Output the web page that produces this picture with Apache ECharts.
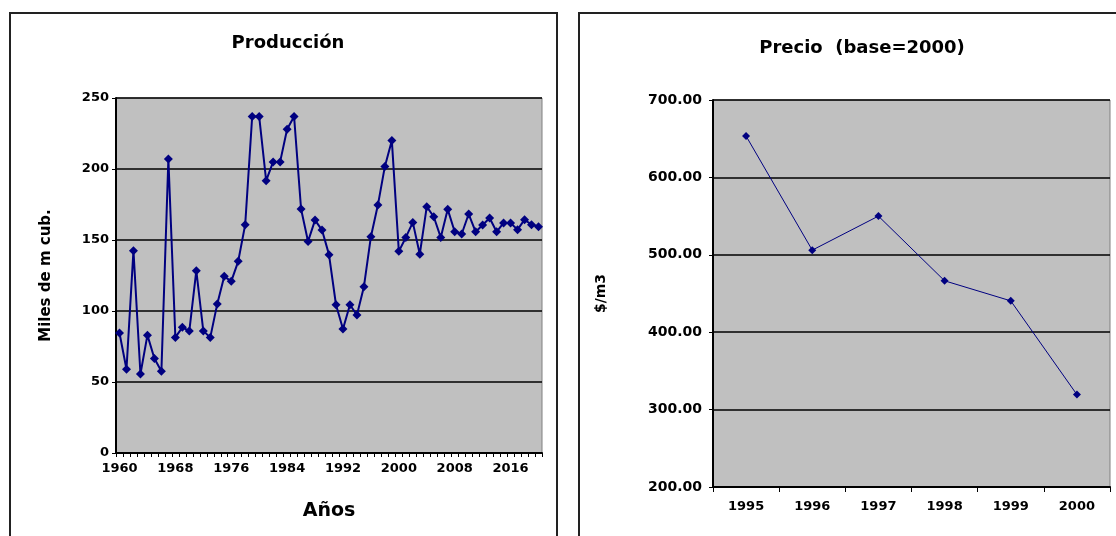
<!DOCTYPE html>
<html>
<head>
<meta charset="utf-8">
<script src="https://cdn.jsdelivr.net/npm/echarts@6/dist/echarts.min.js"></script>
<style>
html,body{margin:0;padding:0;background:#fff;}
#c{width:1116px;height:536px;}
</style>
</head>
<body>
<div id="c"></div>
<script>
// ---- Data ----
var prodYears = ["1960","1961","1962","1963","1964","1965","1966","1967","1968","1969",
  "1970","1971","1972","1973","1974","1975","1976","1977","1978","1979",
  "1980","1981","1982","1983","1984","1985","1986","1987","1988","1989",
  "1990","1991","1992","1993","1994","1995","1996","1997","1998","1999",
  "2000","2001","2002","2003","2004","2005","2006","2007","2008","2009",
  "2010","2011","2012","2013","2014","2015","2016","2017","2018","2019","2020"];
var produccion = [84.5, 59, 142.5, 55.6, 83, 66.6, 57.5, 207, 81.4, 88.5,
  86, 128.4, 86, 81.4, 105, 124.4, 120.9, 135, 160.8, 237,
  237, 191.8, 205, 205, 228, 237, 171.8, 149, 164, 157,
  139.7, 104.4, 87.3, 104.4, 97.2, 117.1, 152.3, 174.6, 201.8, 220,
  142, 151.8, 162.4, 140, 173.5, 166.4, 151.8, 171.6, 155.8, 154.2,
  168.3, 155.8, 160.6, 165.5, 155.8, 162, 162, 157.3, 164.3, 160.8, 159.4];
var precioYears = ["1995","1996","1997","1998","1999","2000"];
var precio = [653.4, 506, 550, 466.4, 440.5, 319.4];

var titleProd = "Producción";
var titlePrecio = "Precio  (base=2000)";
var yNameProd = "Miles de m cub.";
var xNameProd = "Años";
var yNamePrecio = "$/m3";

// ---- Chart ----
var FONT = "DejaVu Sans";
var chart = echarts.init(document.getElementById('c'), null, {renderer: 'canvas'});
var axisLbl = {color: '#000', fontFamily: FONT, fontWeight: 'bold', fontSize: 13};
var option = {
  animation: false,
  backgroundColor: '#fff',
  graphic: [
    {type: 'rect', shape: {x: 10, y: 13, width: 547, height: 540}, style: {fill: 'none', stroke: '#222', lineWidth: 2}, silent: true, z: 0},
    {type: 'rect', shape: {x: 579, y: 13, width: 560, height: 540}, style: {fill: 'none', stroke: '#222', lineWidth: 2}, silent: true, z: 0}
  ],
  title: [
    {text: titleProd, left: 283, top: 29, textAlign: 'center',
     textStyle: {fontFamily: FONT, fontWeight: 'bold', fontSize: 18, color: '#000'}},
    {text: titlePrecio, left: 857, top: 34, textAlign: 'center',
     textStyle: {fontFamily: FONT, fontWeight: 'bold', fontSize: 18, color: '#000'}}
  ],
  grid: [
    {left: 116, top: 98, width: 426, height: 355, show: true, backgroundColor: '#C0C0C0', borderColor: '#808080', borderWidth: 1},
    {left: 713, top: 100, width: 397, height: 387, show: true, backgroundColor: '#C0C0C0', borderColor: '#808080', borderWidth: 1}
  ],
  xAxis: [
    {type: 'category', gridIndex: 0, data: prodYears, boundaryGap: true,
     name: xNameProd, nameLocation: 'middle', nameGap: 49,
     nameTextStyle: {fontFamily: FONT, fontWeight: 'bold', fontSize: 19, color: '#000'},
     axisLine: {show: true, lineStyle: {color: '#000', width: 2}},
     axisTick: {show: true, interval: 0, length: 4, lineStyle: {color: '#000', width: 1}},
     axisLabel: Object.assign({interval: 7, margin: 9}, axisLbl),
     splitLine: {show: false}},
    {type: 'category', gridIndex: 1, data: precioYears, boundaryGap: true,
     axisLine: {show: true, lineStyle: {color: '#000', width: 2}},
     axisTick: {show: true, interval: 0, length: 5, lineStyle: {color: '#000', width: 1}},
     axisLabel: Object.assign({interval: 0, margin: 13}, axisLbl),
     splitLine: {show: false}}
  ],
  yAxis: [
    {type: 'value', gridIndex: 0, min: 0, max: 250, interval: 50,
     name: yNameProd, nameLocation: 'middle', nameGap: 62, nameRotate: 90,
     nameTextStyle: {fontFamily: FONT, fontWeight: 'bold', fontSize: 15, color: '#000'},
     axisLine: {show: true, lineStyle: {color: '#000', width: 2}},
     axisTick: {show: true, length: 4, lineStyle: {color: '#000'}},
     axisLabel: Object.assign({margin: 7}, axisLbl),
     splitLine: {show: true, lineStyle: {color: '#000', width: 1.5}}},
    {type: 'value', gridIndex: 1, min: 200, max: 700, interval: 100,
     name: yNamePrecio, nameLocation: 'middle', nameGap: 105, nameRotate: 90,
     nameTextStyle: {fontFamily: FONT, fontWeight: 'bold', fontSize: 14, color: '#000'},
     axisLine: {show: true, lineStyle: {color: '#000', width: 2}},
     axisTick: {show: true, length: 4, lineStyle: {color: '#000'}},
     axisLabel: Object.assign({margin: 11, formatter: function (v) { return v.toFixed(2); }}, axisLbl, {fontSize: 14}),
     splitLine: {show: true, lineStyle: {color: '#000', width: 1.5}}}
  ],
  series: [
    {type: 'line', xAxisIndex: 0, yAxisIndex: 0, data: produccion,
     symbol: 'diamond', symbolSize: 9, showAllSymbol: true,
     lineStyle: {color: '#000080', width: 2},
     itemStyle: {color: '#000080', borderWidth: 0}},
    {type: 'line', xAxisIndex: 1, yAxisIndex: 1, data: precio,
     symbol: 'diamond', symbolSize: 8, showAllSymbol: true,
     lineStyle: {color: '#000080', width: 1},
     itemStyle: {color: '#000080', borderWidth: 0}}
  ]
};
chart.setOption(option);
</script>
</body>
</html>
